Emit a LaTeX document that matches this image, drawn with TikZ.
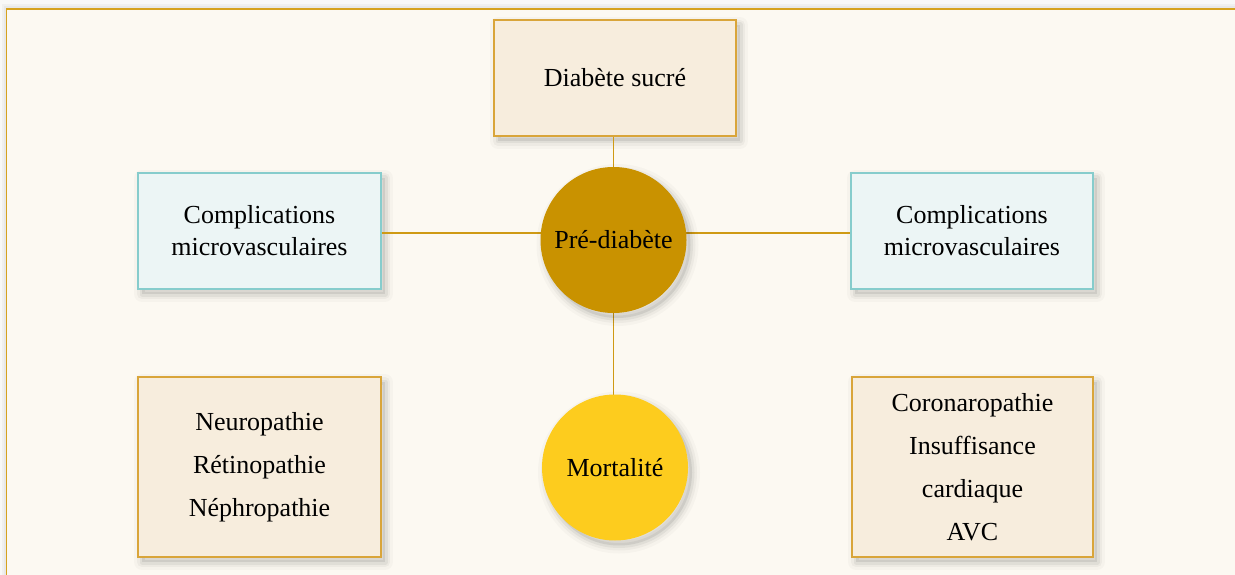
\documentclass[tikz,border=0pt]{standalone}
\usepackage{fontspec}
\setmainfont{Liberation Serif}
\definecolor{outerbg}{HTML}{F8F8F7}
\definecolor{innerbg}{HTML}{FCF9F2}
\definecolor{framegold}{HTML}{D6A21E}
\definecolor{boxfill}{HTML}{F7EDDD}
\definecolor{boxgold}{HTML}{D9A53A}
\definecolor{bluefill}{HTML}{ECF5F5}
\definecolor{blueline}{HTML}{86CCCC}
\definecolor{predia}{HTML}{C99200}
\definecolor{mortal}{HTML}{FDCC1E}
\definecolor{linkcol}{HTML}{CF9A14}
\tikzset{
  shl/.style n args={2}{preaction={draw=black, draw opacity=#2, line width=#1, line join=round, transform canvas={shift={(4pt,-5pt)}}}},
  shad/.style={shl={16pt}{0.025}, shl={10pt}{0.035}, shl={5pt}{0.05},
     preaction={fill=black, fill opacity=0.08, transform canvas={shift={(4pt,-5pt)}}}},
  warmbox/.style={draw=boxgold, line width=1.2pt, fill=boxfill, shad, align=center, inner sep=0pt},
  coolbox/.style={draw=blueline, line width=1.2pt, fill=bluefill, shad, align=center, inner sep=0pt},
  disc/.style={circle, minimum size=146pt, inner sep=0pt, shad},
  link/.style={draw=linkcol, line width=1.2pt},
  txt/.style={font=\fontsize{26}{32}\selectfont},
  txtb/.style={font=\fontsize{26}{43}\selectfont}
}
\begin{document}
\begin{tikzpicture}[x=1pt,y=-1pt]
\useasboundingbox (0,0) rectangle (1235,575);
\fill[outerbg] (0,0) rectangle (1235,575);
\draw[black, opacity=0.03, line width=10pt] (6.5,9) rectangle (1260,600);
\draw[black, opacity=0.03, line width=5pt] (6.5,9) rectangle (1260,600);
\path[fill=innerbg, draw=framegold, line width=1.5pt] (6.5,9) rectangle (1260,600);

% nodes
\node[warmbox, txt, minimum width=242pt, minimum height=116pt] (ds) at (615,78) {Diabète sucré};
\node[coolbox, txt, minimum width=243pt, minimum height=116pt] (lc) at (259.5,231) {Complications\\microvasculaires};
\node[coolbox, txt, minimum width=242pt, minimum height=116pt] (rc) at (972,231) {Complications\\microvasculaires};
\node[warmbox, txtb, minimum width=243pt, minimum height=180pt] (lb) at (259.5,467) {Neuropathie\\Rétinopathie\\Néphropathie};
\node[warmbox, txtb, minimum width=241pt, minimum height=180pt] (rb) at (972.5,467) {Coronaropathie\\Insuffisance\\cardiaque\\AVC};

\coordinate (vx) at (613.5,0);
\coordinate (hy) at (0,233);
% links (behind circles)
\path[link] (ds.south -| vx) -- (vx |- 0,320);
\path[link] (vx |- 0,300) -- (vx |- 0,400);
\path[link] (lc.east |- hy) -- (rc.west |- hy);

\node[disc, fill=predia, txt] (pre) at (613.5,240) {Pré-diabète};
\node[disc, fill=mortal, txt] (mor) at (615,467.5) {Mortalité};
\end{tikzpicture}
\end{document}
